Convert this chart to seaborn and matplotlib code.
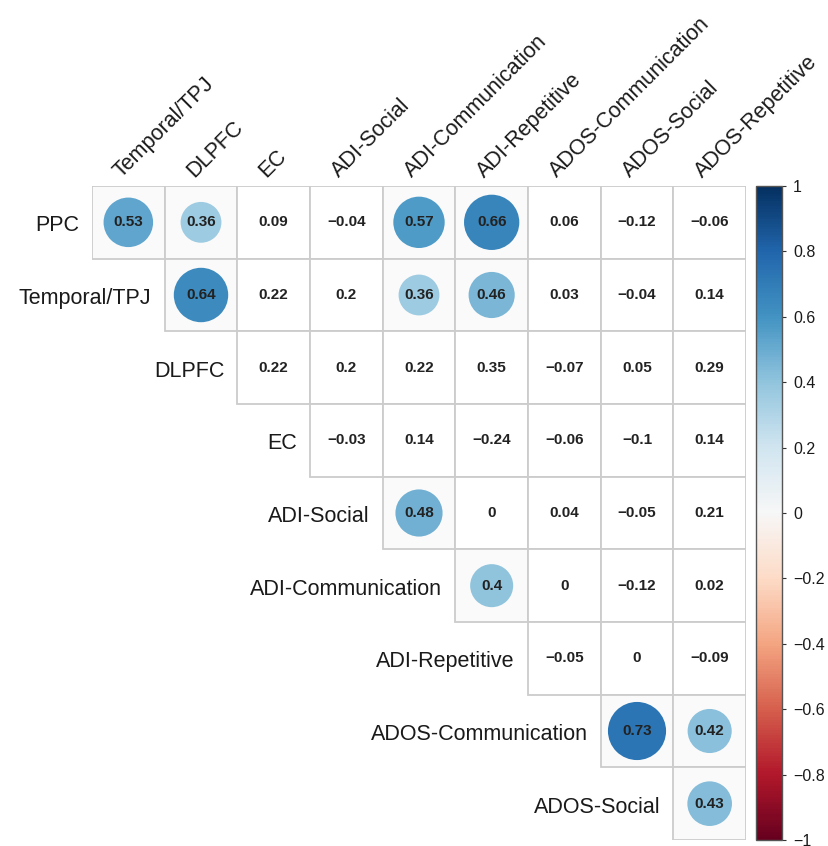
import numpy as np
import pandas as pd
import matplotlib.pyplot as plt
import matplotlib as mpl
from matplotlib.patches import Rectangle
import seaborn as sns

# -------- data --------
row_labels = ["PPC", "Temporal/TPJ", "DLPFC", "EC", "ADI-Social",
              "ADI-Communication", "ADI-Repetitive", "ADOS-Communication", "ADOS-Social"]
col_labels = ["Temporal/TPJ", "DLPFC", "EC", "ADI-Social", "ADI-Communication",
              "ADI-Repetitive", "ADOS-Communication", "ADOS-Social", "ADOS-Repetitive"]

# upper triangle, row i holds columns i..8
r_ppc = [0.53, 0.36, 0.09, -0.04, 0.57, 0.66, 0.06, -0.12, -0.06]
r_temporal = [0.64, 0.22, 0.2, 0.36, 0.46, 0.03, -0.04, 0.14]
r_dlpfc = [0.22, 0.2, 0.22, 0.35, -0.07, 0.05, 0.29]
r_ec = [-0.03, 0.14, -0.24, -0.06, -0.1, 0.14]
r_adi_soc = [0.48, 0, 0.04, -0.05, 0.21]
r_adi_com = [0.4, 0, -0.12, 0.02]
r_adi_rep = [-0.05, 0, -0.09]
r_ados_com = [0.73, 0.42]
r_ados_soc = [0.43]

# significant cells (circle drawn)
s_ppc = [1, 1, 0, 0, 1, 1, 0, 0, 0]
s_temporal = [1, 0, 0, 1, 1, 0, 0, 0]
s_dlpfc = [0, 0, 0, 0, 0, 0, 0]
s_ec = [0, 0, 0, 0, 0, 0]
s_adi_soc = [1, 0, 0, 0, 0]
s_adi_com = [1, 0, 0, 0]
s_adi_rep = [0, 0, 0]
s_ados_com = [1, 1]
s_ados_soc = [1]

rows_r = [r_ppc, r_temporal, r_dlpfc, r_ec, r_adi_soc, r_adi_com, r_adi_rep, r_ados_com, r_ados_soc]
rows_s = [s_ppc, s_temporal, s_dlpfc, s_ec, s_adi_soc, s_adi_com, s_adi_rep, s_ados_com, s_ados_soc]

recs = []
for i, (vals, sig) in enumerate(zip(rows_r, rows_s)):
    for k, (v, s) in enumerate(zip(vals, sig)):
        recs.append({"row": i, "col": i + k, "r": v, "sig": bool(s)})
df = pd.DataFrame(recs)
df["x"] = df["col"] + 0.5
df["y"] = df["row"] + 0.5
df["abs_r"] = df["r"].abs()

# -------- figure --------
sns.set_style("white")
plt.rcParams["font.family"] = ["Liberation Sans", "DejaVu Sans"]

W, H = 829, 846
fig = plt.figure(figsize=(W / 100, H / 100), dpi=100)
ax = fig.add_axes([92 / W, 6 / H, 654 / W, 654 / H])
cax = fig.add_axes([756 / W, 6 / H, 26 / W, 654 / H])

n = len(col_labels)

cmap = plt.get_cmap("RdBu")
norm = mpl.colors.Normalize(-1, 1)

for _, c in df.iterrows():
    ax.add_patch(Rectangle((c["col"], c["row"]), 1, 1,
                           facecolor="#fafafa" if c["sig"] else "white",
                           edgecolor="#cccccc", lw=1.3, zorder=1))

sig = df[df["sig"]]
sns.scatterplot(data=sig, x="x", y="y", hue="r", palette="RdBu", hue_norm=norm,
                size="abs_r", sizes=(0, 2400), size_norm=(0, 1),
                linewidth=0, legend=False, ax=ax, zorder=3)
ax.set_xlim(0, n)
ax.set_ylim(n, 0)
ax.axis("off")

for _, c in df.iterrows():
    v = c["r"]
    txt = "0" if v == 0 else f"{v:g}".replace("-", "\u2212")
    ax.text(c["x"], c["y"], txt, ha="center", va="center", fontsize=11,
            fontweight="bold", color="#222222", zorder=4)

for i, lab in enumerate(row_labels):
    ax.text(i - 0.18, i + 0.55, lab, ha="right", va="center", fontsize=15.5,
            color="#1a1a1a", clip_on=False)

for j, lab in enumerate(col_labels):
    ax.text(j + 0.45, -0.06, lab, ha="left", va="bottom", rotation=45,
            rotation_mode="anchor", fontsize=15.5, color="#1a1a1a", clip_on=False)

# -------- colorbar --------
cb = fig.colorbar(mpl.cm.ScalarMappable(norm=norm, cmap=cmap), cax=cax)
ticks = np.round(np.arange(-1, 1.01, 0.2), 1)
cb.set_ticks(ticks)
cb.set_ticklabels(["0" if t == 0 else f"{t:g}".replace("-", "\u2212") for t in ticks])
cb.outline.set_edgecolor("#555555")
cb.outline.set_linewidth(1)
cax.tick_params(labelsize=11.5, length=3, width=0.8, colors="#333333", labelcolor="#1a1a1a", pad=5)

fig.savefig("out.png", dpi=100)
